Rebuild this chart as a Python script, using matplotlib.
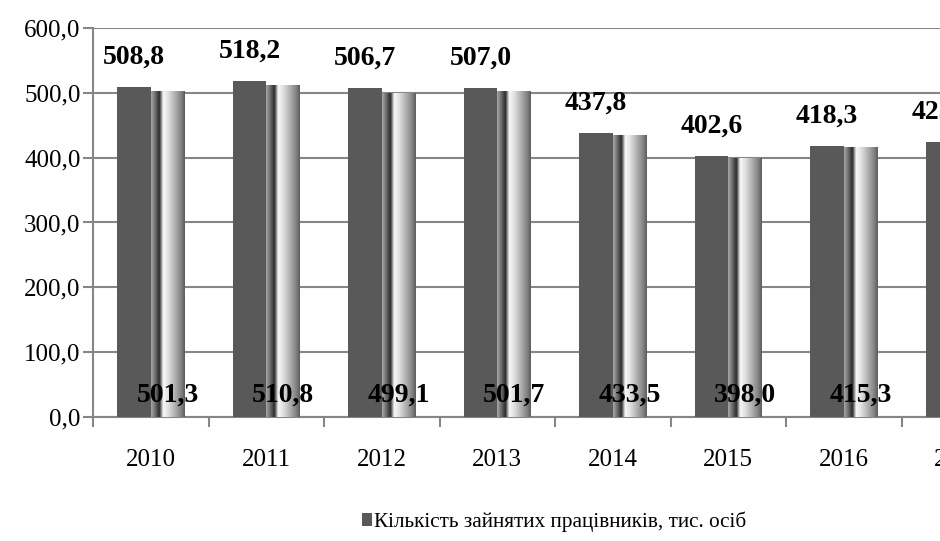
import numpy as np
import matplotlib
matplotlib.use("Agg")
import matplotlib.pyplot as plt
from matplotlib.colors import LinearSegmentedColormap

plt.rcParams['font.family'] = ['Liberation Serif', 'DejaVu Serif']

years = ['2010', '2011', '2012', '2013', '2014', '2015', '2016', '2017']
employed = [508.8, 518.2, 506.7, 507.0, 437.8, 402.6, 418.3, 423.6]
second = [501.3, 510.8, 499.1, 501.7, 433.5, 398.0, 415.3, 420.0]
series_names = ['Кількість зайнятих працівників, тис. осіб', 'Облікова кількість штатних працівників, тис. осіб']
ytick_vals = [0, 100, 200, 300, 400, 500, 600]

W, H = 940, 541
fig = plt.figure(figsize=(W / 100, H / 100), dpi=100)
ax_left, ax_right, ax_top, ax_bottom = 93, 93 + 8 * 115.5, 28, 417
ax = fig.add_axes([ax_left / W, (H - ax_bottom) / H, (ax_right - ax_left) / W, (ax_bottom - ax_top) / H])

x = np.arange(len(years))
bw = 0.29
dark = '#595959'
b1 = ax.bar(x - bw / 2, employed, width=bw, color=dark, zorder=3, label=series_names[0])
b2 = ax.bar(x + bw / 2, second, width=bw, color='none', zorder=3, label=series_names[1])

cmap = LinearSegmentedColormap.from_list('cyl', [
    (0.0, '#a8a8a8'), (0.10, '#7a7a7a'), (0.25, '#2a2a2a'), (0.31, '#9a9a9a'),
    (0.36, '#f8f8f8'), (0.50, '#e2e2e2'), (0.70, '#b2b2b2'), (0.88, '#858585'),
    (1.0, '#5c5c5c')])
grad = np.linspace(0, 1, 256).reshape(1, -1)
for r in b2.patches:
    x0, y0, w, h = r.get_x(), r.get_y(), r.get_width(), r.get_height()
    ax.imshow(grad, cmap=cmap, extent=[x0, x0 + w, y0, y0 + h], aspect='auto',
              interpolation='bilinear', zorder=3)

ax.set_xlim(-0.5, len(years) - 0.5)
ax.set_ylim(0, 600)

ax.set_yticks(ytick_vals)
ax.set_yticklabels([f"{v:.1f}".replace('.', ',') for v in ytick_vals], fontsize=18)
ax.set_xticks(x)
ax.set_xticklabels(years, fontsize=18)
ax.set_xticks(np.arange(-0.5, len(years), 1.0), minor=True)
ax.tick_params(axis='x', which='major', length=0, pad=23)
ax.tick_params(axis='x', which='minor', length=7, width=1.5, color='#868686', direction='out')
ax.tick_params(axis='y', length=7, width=1.5, color='#868686', direction='out', pad=2)

ax.yaxis.grid(True, color='#868686', linewidth=1.5, zorder=0)
ax.set_axisbelow(True)
for s in ['top', 'right']:
    ax.spines[s].set_visible(False)
for s in ['left', 'bottom']:
    ax.spines[s].set_color('#868686')
    ax.spines[s].set_linewidth(1.5)

for r, v in zip(b1.patches, employed):
    ax.annotate(f"{v:.1f}".replace('.', ','), (r.get_x() + r.get_width() / 2, v),
                xytext=(0, 17), textcoords='offset points', ha='center', va='baseline',
                fontsize=20, fontweight='bold', zorder=5, annotation_clip=False)
for r, v in zip(b2.patches, second):
    ax.annotate(f"{v:.1f}".replace('.', ','), (r.get_x() + r.get_width() / 2, 0),
                xytext=(0, 11), textcoords='offset points', ha='center', va='baseline',
                fontsize=20, fontweight='bold', zorder=5, annotation_clip=False)

fig.legend(handles=[b1], labels=[series_names[0]], loc='center left',
           bbox_to_anchor=(353 / W, 1 - 522 / H), frameon=False, fontsize=15.3,
           handlelength=0.5, handleheight=0.55, handletextpad=0.1, borderaxespad=0)

fig.savefig('out.png', dpi=100)
